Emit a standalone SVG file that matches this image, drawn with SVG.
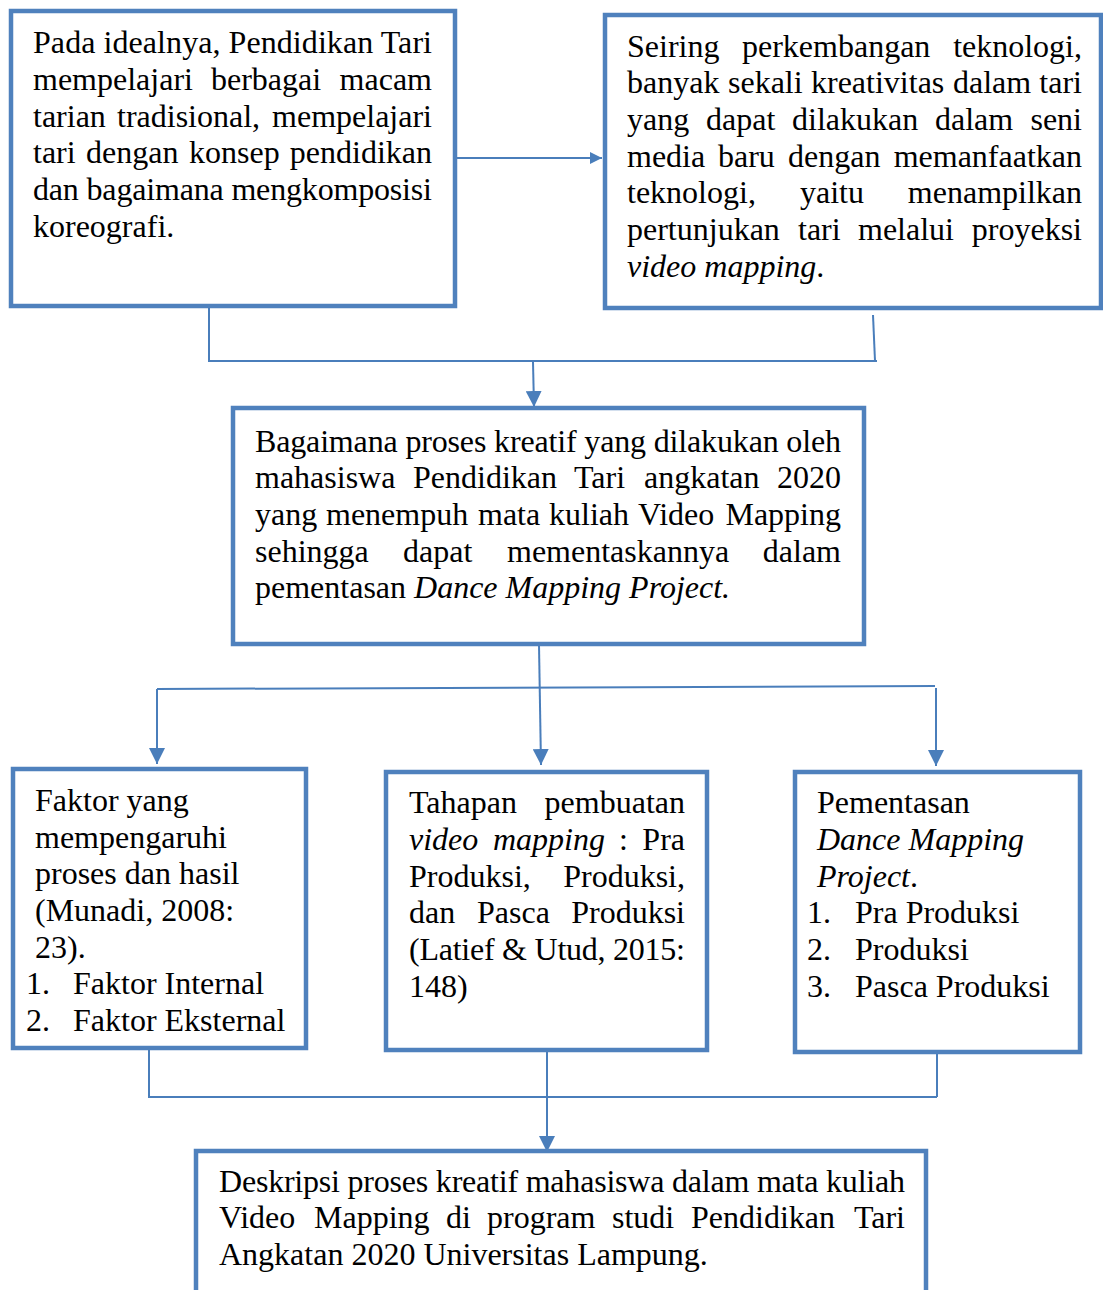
<svg xmlns="http://www.w3.org/2000/svg" width="1103" height="1290" viewBox="0 0 1103 1290">
<style>
.box{fill:#fff;stroke:#4f81bd;stroke-width:4.5}
.t{font-family:"Liberation Serif","Times New Roman",serif;font-size:32px;fill:#000}
.i{font-style:italic}
.e{text-anchor:end}
.c{fill:none;stroke:#4a7ebb;stroke-width:2}
</style>
<defs>
<marker id="ah" viewBox="0 0 16 16" refX="16" refY="8" markerWidth="16" markerHeight="16" markerUnits="userSpaceOnUse" orient="auto"><path d="M0,0 L16,8 L0,16 z" fill="#4a7ebb"/></marker>
<marker id="ahs" viewBox="0 0 12 12" refX="12" refY="6" markerWidth="12" markerHeight="12" markerUnits="userSpaceOnUse" orient="auto"><path d="M0,0 L12,6 L0,12 z" fill="#4a7ebb"/></marker>
</defs>
<rect width="1103" height="1290" fill="#fff"/>
<g id="connectors">
<path class="c" d="M457,158 L602,158" marker-end="url(#ahs)"/>
<path class="c" d="M209,308 V361 H877"/>
<path class="c" d="M873,315 L875,361"/>
<path class="c" d="M533,362 L534,407" marker-end="url(#ah)"/>
<path class="c" d="M539,645 L541,765" marker-end="url(#ah)"/>
<path class="c" d="M157,689 L935,686"/>
<path class="c" d="M157,689 V764" marker-end="url(#ah)"/>
<path class="c" d="M936,688 V766" marker-end="url(#ah)"/>
<path class="c" d="M149,1049 V1097 H937"/>
<path class="c" d="M937,1054 V1097"/>
<path class="c" d="M547,1052 V1152" marker-end="url(#ah)"/>
</g>
<g id="node1">
<rect class="box" x="11" y="11" width="444" height="295"/>
<text class="t" x="33" y="53" textLength="399" lengthAdjust="spacing">Pada idealnya, Pendidikan Tari</text>
<text class="t" y="90"><tspan x="33">mempelajari</tspan><tspan x="211">berbagai</tspan><tspan x="432" class="e">macam</tspan></text>
<text class="t" y="127"><tspan x="33">tarian</tspan><tspan x="117">tradisional,</tspan><tspan x="432" class="e">mempelajari</tspan></text>
<text class="t" y="163"><tspan x="33">tari</tspan><tspan x="86">dengan</tspan><tspan x="189">konsep</tspan><tspan x="432" class="e">pendidikan</tspan></text>
<text class="t" x="33" y="200" textLength="399" lengthAdjust="spacing">dan bagaimana mengkomposisi</text>
<text class="t" x="33" y="237">koreografi.</text>
</g>
<g id="node2">
<rect class="box" x="605" y="15" width="496" height="293"/>
<text class="t" y="57"><tspan x="627">Seiring</tspan><tspan x="742">perkembangan</tspan><tspan x="1082" class="e">teknologi,</tspan></text>
<text class="t" y="93"><tspan x="627">banyak</tspan><tspan x="728">sekali</tspan><tspan x="811">kreativitas</tspan><tspan x="953">dalam</tspan><tspan x="1082" class="e">tari</tspan></text>
<text class="t" y="130"><tspan x="627">yang</tspan><tspan x="706">dapat</tspan><tspan x="792">dilakukan</tspan><tspan x="935">dalam</tspan><tspan x="1082" class="e">seni</tspan></text>
<text class="t" y="167"><tspan x="627">media</tspan><tspan x="718">baru</tspan><tspan x="788">dengan</tspan><tspan x="1082" class="e">memanfaatkan</tspan></text>
<text class="t" y="203"><tspan x="627">teknologi,</tspan><tspan x="800">yaitu</tspan><tspan x="1082" class="e">menampilkan</tspan></text>
<text class="t" y="240"><tspan x="627">pertunjukan</tspan><tspan x="798">tari</tspan><tspan x="858">melalui</tspan><tspan x="1082" class="e">proyeksi</tspan></text>
<text class="t" x="627" y="277"><tspan class="i">video mapping</tspan>.</text>
</g>
<g id="node3">
<rect class="box" x="233" y="408" width="631" height="236"/>
<text class="t" x="255" y="452" textLength="586" lengthAdjust="spacing">Bagaimana proses kreatif yang dilakukan oleh</text>
<text class="t" y="488"><tspan x="255">mahasiswa</tspan><tspan x="413">Pendidikan</tspan><tspan x="574">Tari</tspan><tspan x="644">angkatan</tspan><tspan x="841" class="e">2020</tspan></text>
<text class="t" y="525"><tspan x="255">yang</tspan><tspan x="326">menempuh</tspan><tspan x="478">mata</tspan><tspan x="549">kuliah</tspan><tspan x="638">Video</tspan><tspan x="841" class="e">Mapping</tspan></text>
<text class="t" y="562"><tspan x="255">sehingga</tspan><tspan x="403">dapat</tspan><tspan x="507">mementaskannya</tspan><tspan x="841" class="e">dalam</tspan></text>
<text class="t" x="255" y="598">pementasan <tspan class="i">Dance Mapping Project.</tspan></text>
</g>
<g id="node4">
<rect class="box" x="13" y="769" width="293" height="279"/>
<text class="t" x="35" y="811">Faktor yang</text>
<text class="t" x="35" y="848">mempengaruhi</text>
<text class="t" x="35" y="884">proses dan hasil</text>
<text class="t" x="35" y="921">(Munadi, 2008:</text>
<text class="t" x="35" y="958">23).</text>
<text class="t" y="994"><tspan x="26">1.</tspan><tspan x="73">Faktor Internal</tspan></text>
<text class="t" y="1031"><tspan x="26">2.</tspan><tspan x="73">Faktor Eksternal</tspan></text>
</g>
<g id="node5">
<rect class="box" x="386" y="772" width="321" height="278"/>
<text class="t" y="813"><tspan x="409">Tahapan</tspan><tspan x="685" class="e">pembuatan</tspan></text>
<text class="t" y="850"><tspan x="409" class="i">video</tspan><tspan x="493" class="i">mapping</tspan><tspan x="619">:</tspan><tspan x="685" class="e">Pra</tspan></text>
<text class="t" y="887"><tspan x="409">Produksi,</tspan><tspan x="685" class="e">Produksi,</tspan></text>
<text class="t" y="923"><tspan x="409">dan</tspan><tspan x="477">Pasca</tspan><tspan x="685" class="e">Produksi</tspan></text>
<text class="t" x="409" y="960" textLength="276" lengthAdjust="spacing">(Latief &amp; Utud, 2015:</text>
<text class="t" x="409" y="997">148)</text>
</g>
<g id="node6">
<rect class="box" x="795" y="772" width="285" height="280"/>
<text class="t" x="817" y="813">Pementasan</text>
<text class="t i" x="817" y="850">Dance Mapping</text>
<text class="t" x="817" y="887"><tspan class="i">Project</tspan>.</text>
<text class="t" y="923"><tspan x="807">1.</tspan><tspan x="855">Pra Produksi</tspan></text>
<text class="t" y="960"><tspan x="807">2.</tspan><tspan x="855">Produksi</tspan></text>
<text class="t" y="997"><tspan x="807">3.</tspan><tspan x="855">Pasca Produksi</tspan></text>
</g>
<g id="node7">
<rect class="box" x="196" y="1151" width="730" height="170"/>
<text class="t" x="219" y="1192" textLength="686" lengthAdjust="spacing">Deskripsi proses kreatif mahasiswa dalam mata kuliah</text>
<text class="t" y="1228"><tspan x="219">Video</tspan><tspan x="314">Mapping</tspan><tspan x="446">di</tspan><tspan x="487">program</tspan><tspan x="612">studi</tspan><tspan x="691">Pendidikan</tspan><tspan x="905" class="e">Tari</tspan></text>
<text class="t" x="219" y="1265">Angkatan 2020 Universitas Lampung.</text>
</g>
</svg>
